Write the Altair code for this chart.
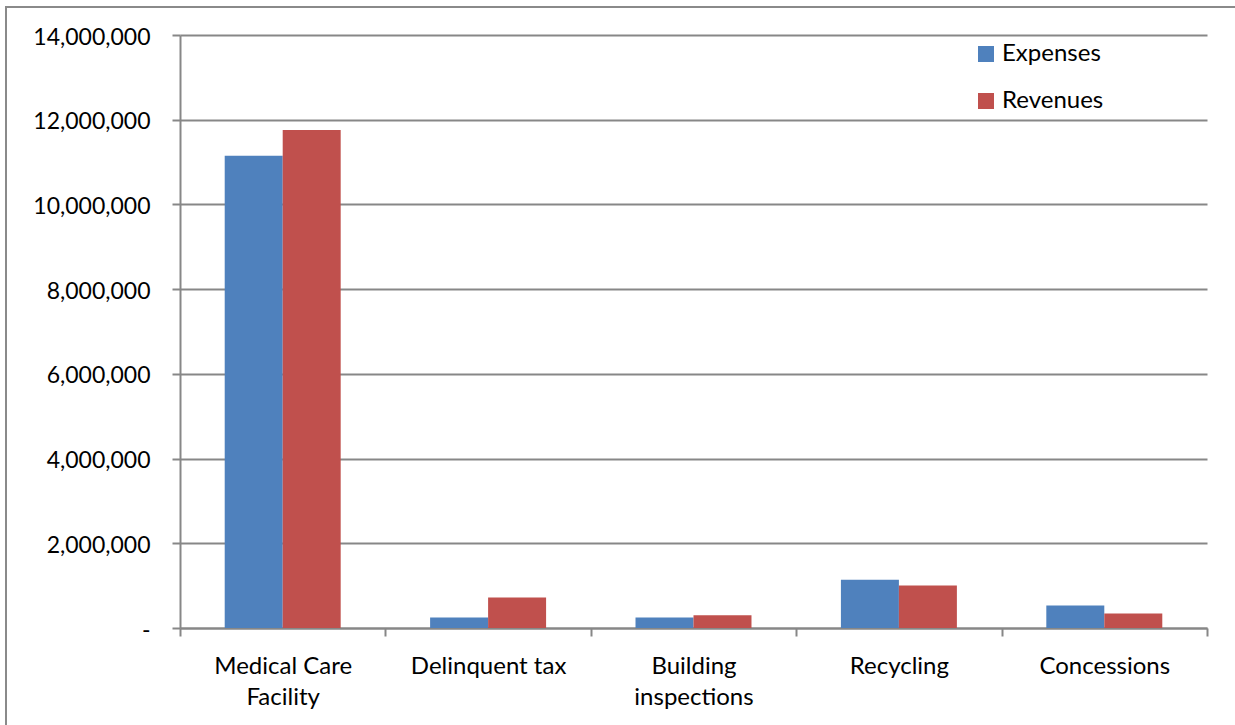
import altair as alt
import pandas as pd

# Program budget figures
categories = ["Medical Care Facility", "Delinquent tax", "Building inspections", "Recycling", "Concessions"]
series = ["Expenses", "Revenues"]
expenses = [11150000, 250000, 250000, 1140000, 530000]
revenues = [11760000, 720000, 300000, 1005000, 345000]
y_ticks = [0, 2000000, 4000000, 6000000, 8000000, 10000000, 12000000, 14000000]
colors = ["#4F81BD", "#C0504D"]

rows = []
for cat, e, r in zip(categories, expenses, revenues):
    rows.append({"category": cat, "series": "Expenses", "amount": e})
    rows.append({"category": cat, "series": "Revenues", "amount": r})
df = pd.DataFrame(rows)

W, H = 1027, 593
GRAY = "#878787"
FONT = "Lato"

label_expr = (
    "datum.label == 'Medical Care Facility' ? ['Medical Care', 'Facility'] : "
    "datum.label == 'Building inspections' ? ['Building', 'inspections'] : datum.label"
)

bars = alt.Chart(df).mark_bar().encode(
    x=alt.X(
        "category:N",
        sort=categories,
        title=None,
        scale=alt.Scale(paddingInner=0, paddingOuter=0),
        axis=alt.Axis(
            labelAngle=0,
            tickBand="extent",
            domainColor=GRAY,
            domainWidth=2,
            tickColor=GRAY,
            tickWidth=2,
            tickSize=8,
            labelPadding=18,
            labelFontSize=24,
            labelColor="#000000",
            labelLineHeight=31,
            labelExpr=label_expr,
            grid=False,
        ),
    ),
    xOffset=alt.XOffset(
        "series:N",
        sort=series,
        scale=alt.Scale(paddingInner=0, paddingOuter=0.771),
    ),
    y=alt.Y(
        "amount:Q",
        title=None,
        scale=alt.Scale(domain=[0, 14000000], nice=False),
        axis=alt.Axis(
            values=y_ticks,
            labelExpr="datum.value == 0 ? '-\u00a0' : format(datum.value, ',')",
            grid=True,
            gridColor=GRAY,
            gridWidth=2,
            domainColor=GRAY,
            domainWidth=2,
            tickColor=GRAY,
            tickWidth=2,
            tickSize=8,
            labelPadding=22,
            labelFontSize=23,
            labelColor="#000000",
            labelOffset=2,
        ),
    ),
    color=alt.Color(
        "series:N",
        sort=series,
        scale=alt.Scale(domain=series, range=colors),
        legend=alt.Legend(
            title=None,
            orient="none",
            legendX=794,
            legendY=7,
            padding=0,
            symbolType="square",
            symbolSize=256,
            symbolStrokeWidth=0,
            symbolOpacity=1,
            labelFontSize=24,
            labelColor="#000000",
            labelOffset=4,
            rowPadding=23,
        ),
    ),
)

# Outer chart frame
frame = alt.Chart(alt.Data(values=[{}])).mark_rect(
    filled=False, stroke="#8a8a8a", strokeWidth=2
).encode(
    x=alt.value(-174),
    x2=alt.value(W + 200),
    y=alt.value(-28),
    y2=alt.value(H + 200),
)

chart = alt.layer(frame, bars).properties(
    width=W,
    height=H,
    autosize=alt.AutoSizeParams(type="none"),
    padding={"left": 180, "top": 35, "right": 28, "bottom": 97},
).configure(
    font=FONT,
).configure_view(
    stroke=None,
).configure_axis(
    labelFont=FONT,
).configure_legend(
    labelFont=FONT,
)

chart.save("out.html", embed_options={"renderer": "svg", "actions": False})
